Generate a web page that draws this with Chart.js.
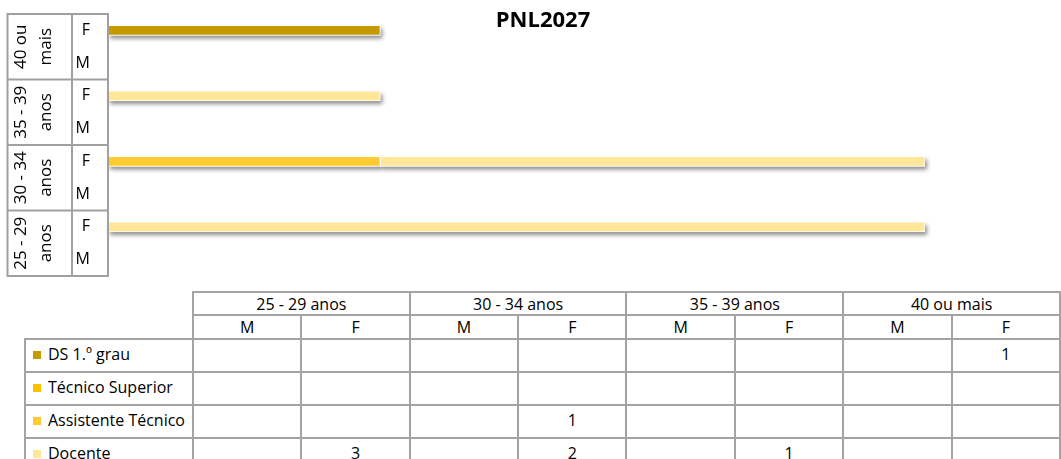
<!DOCTYPE html>
<html>
<head>
<meta charset="utf-8">
<script src="https://cdn.jsdelivr.net/npm/chart.js@4.4.1/dist/chart.umd.min.js"></script>
<style>
    body { margin: 0; width: 1061px; height: 459px; overflow: hidden; background: #fff; font-family: 'Open Sans', sans-serif; }
    #wrap { position: absolute; left: 0; top: 0; width: 1061px; height: 285px; }
    #dataTable { position: absolute; left: 24px; top: 291px; border-collapse: collapse; table-layout: fixed; font-size: 16px; color: #000; }
    #dataTable td { border: 2px solid #a3a3a3; text-align: center; padding: 0; white-space: nowrap; line-height: 18px; }
    #dataTable td.blank { border: none; }
    #dataTable tr.h1 td { height: 21px; }
    #dataTable tr.h2 td { height: 22px; }
    #dataTable tr.row td { height: 27px; padding-bottom: 4px; }
    #dataTable td.lbl { text-align: left; padding-left: 7px; }
    .sw { display: inline-block; width: 8px; height: 8px; margin-right: 7px; vertical-align: 1px; }
</style>
</head>
<body>
<div id="wrap"><canvas id="chart" width="1061" height="285"></canvas></div>
<table id="dataTable"></table>
<script>
// DATA
const ageGroups = ['25 - 29 anos', '30 - 34 anos', '35 - 39 anos', '40 ou mais'];
const ageLines = [['25 - 29', 'anos'], ['30 - 34', 'anos'], ['35 - 39', 'anos'], ['40 ou', 'mais']];
const sexes = ['M', 'F'];
const seriesNames = ['DS 1.º grau', 'Técnico Superior', 'Assistente Técnico', 'Docente'];
const seriesColors = ['#C49A00', '#FFC000', '#FFCB2E', '#FFE699'];
// values in table order: 25-29 M, F, 30-34 M, F, 35-39 M, F, 40+ M, F
const dsGrau = [null, null, null, null, null, null, null, 1];
const tecSuperior = [null, null, null, null, null, null, null, null];
const assistTecnico = [null, null, null, 1, null, null, null, null];
const docente = [null, 3, null, 2, null, 1, null, null];
const xMax = 3;

const seriesValues = [dsGrau, tecSuperior, assistTecnico, docente];
const labels = [];
ageGroups.forEach(g => sexes.forEach(s => labels.push(g + ' ' + s)));
const sexOf = i => sexes[i % 2];

const FONT = "'Open Sans', sans-serif";
const LINE = '#a0a0a0';

// draws shadow under bars, then the category box and title
const decorPlugin = {
    id: 'decor',
    beforeDatasetsDraw(chart) {
        const ctx = chart.ctx;
        ctx.save();
        ctx.shadowColor = 'rgba(0,0,0,0.45)';
        ctx.shadowBlur = 4;
        ctx.shadowOffsetX = 2;
        ctx.shadowOffsetY = 3;
        ctx.fillStyle = '#ffffff';
        chart.data.datasets.forEach((ds, di) => {
            chart.getDatasetMeta(di).data.forEach((el, i) => {
                if (ds.data[i] == null) return;
                const p = el.getProps(['x', 'y', 'base', 'height'], true);
                ctx.fillRect(Math.min(p.base, p.x), p.y - p.height / 2, Math.abs(p.x - p.base), p.height);
            });
        });
        ctx.restore();
    },
    afterDraw(chart) {
        const ctx = chart.ctx;
        const y = chart.scales.y;
        const top = chart.chartArea.top, bottom = chart.chartArea.bottom;
        const xL = 7.5, xM = 72, xR = y.right;
        ctx.save();
        ctx.strokeStyle = LINE;
        ctx.lineWidth = 2;
        ctx.beginPath();
        [xL, xM, xR].forEach(x => { ctx.moveTo(x, top); ctx.lineTo(x, bottom); });
        const bounds = [top, bottom];
        for (let g = 1; g < ageGroups.length; g++) {
            bounds.push((y.getPixelForValue(2 * g - 1) + y.getPixelForValue(2 * g)) / 2);
        }
        bounds.forEach(b => { ctx.moveTo(xL - 1, b); ctx.lineTo(xR + 1, b); });
        ctx.stroke();

        ctx.fillStyle = '#000';
        ctx.font = '17px ' + FONT;
        ctx.textAlign = 'center';
        ctx.textBaseline = 'middle';
        ageLines.forEach((lines, g) => {
            const cy = (y.getPixelForValue(2 * g) + y.getPixelForValue(2 * g + 1)) / 2;
            lines.forEach((t, k) => {
                ctx.save();
                ctx.translate(k === 0 ? 21 : 46, cy);
                ctx.rotate(-Math.PI / 2);
                ctx.fillText(t, 0, 0);
                ctx.restore();
            });
        });

        ctx.font = 'bold 22px ' + FONT;
        ctx.fillText('PNL2027', 543, 21);
        ctx.restore();
    }
};

const ctx = document.getElementById('chart').getContext('2d');
new Chart(ctx, {
    type: 'bar',
    data: {
        labels,
        datasets: seriesNames.map((name, i) => ({
            label: name,
            data: seriesValues[i],
            backgroundColor: seriesColors[i],
            borderColor: '#ffffff',
            borderWidth: 1,
            borderSkipped: false,
            barThickness: 10
        }))
    },
    options: {
        indexAxis: 'y',
        responsive: false,
        animation: false,
        layout: { padding: { left: 8, right: 136, top: 14, bottom: 9 } },
        plugins: { legend: { display: false }, tooltip: { enabled: false }, title: { display: false } },
        scales: {
            x: { stacked: true, min: 0, max: xMax, display: false },
            y: {
                stacked: true,
                reverse: true,
                grid: { display: false, drawTicks: false },
                border: { display: false },
                afterFit: s => { s.width = 100; s.paddingTop = 0; s.paddingBottom = 0; },
                ticks: {
                    padding: 18,
                    color: '#000',
                    font: { family: FONT, size: 16 },
                    callback: (v, i) => sexOf(i)
                }
            }
        }
    },
    plugins: [decorPlugin]
});

// data table built from the same arrays
const table = document.getElementById('dataTable');
let html = '<colgroup><col style="width:168px">' + labels.map(() => '<col style="width:108.6px">').join('') + '</colgroup>';
html += '<tr class="h1"><td class="blank"></td>' + ageGroups.map(g => `<td colspan="2">${g}</td>`).join('') + '</tr>';
html += '<tr class="h2"><td class="blank"></td>' + labels.map((l, i) => `<td>${sexOf(i)}</td>`).join('') + '</tr>';
seriesNames.forEach((name, si) => {
    html += `<tr class="row"><td class="lbl"><span class="sw" style="background:${seriesColors[si]}"></span>${name}</td>`;
    html += seriesValues[si].map(v => `<td>${v == null ? '' : v}</td>`).join('') + '</tr>';
});
table.innerHTML = html;
</script>
</body>
</html>
